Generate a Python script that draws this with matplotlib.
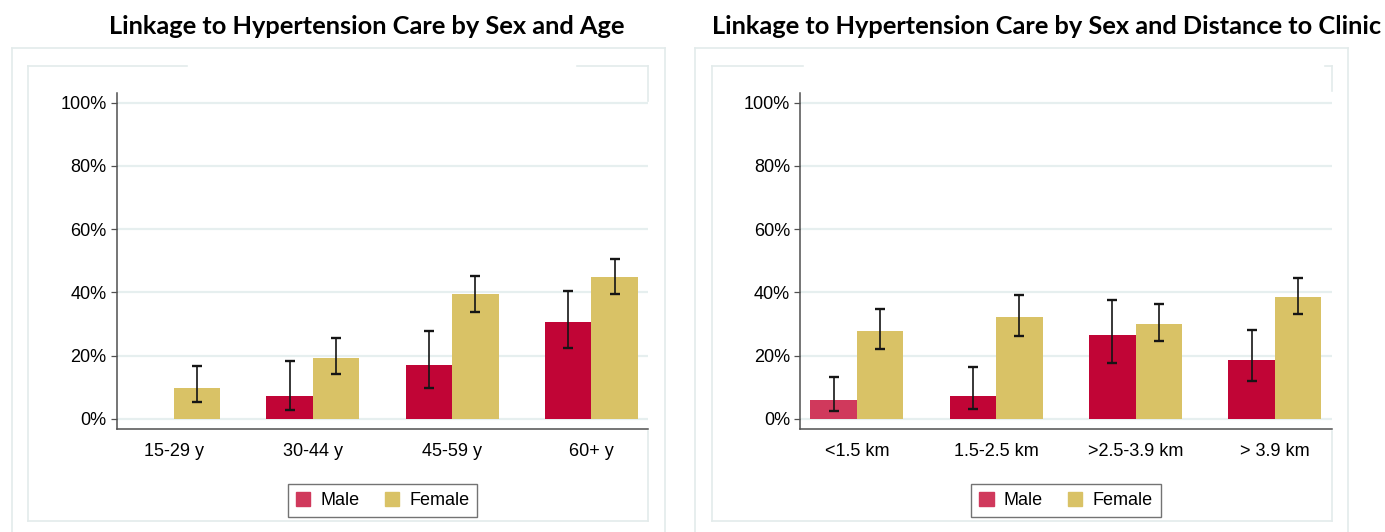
import numpy as np
import matplotlib
matplotlib.use("Agg")
import matplotlib.pyplot as plt
from matplotlib.patches import Patch
from matplotlib.lines import Line2D

W, H = 1385, 532

# data (percent linked to care)
age_groups = ["15-29 y", "30-44 y", "45-59 y", "60+ y"]
age_male = [np.nan, 7.4, 17.2, 30.8]
age_male_lo = [np.nan, 2.8, 9.9, 22.4]
age_male_hi = [np.nan, 18.3, 27.9, 40.5]
age_female = [9.7, 19.3, 39.4, 44.8]
age_female_lo = [5.3, 14.2, 33.9, 39.4]
age_female_hi = [16.8, 25.5, 45.1, 50.5]

dist_groups = ["<1.5 km", "1.5-2.5 km", ">2.5-3.9 km", "> 3.9 km"]
dist_male = [5.9, 7.4, 26.4, 18.8]
dist_male_lo = [2.5, 3.3, 17.7, 12.0]
dist_male_hi = [13.3, 16.5, 37.6, 28.1]
dist_female = [27.9, 32.3, 30.1, 38.6]
dist_female_lo = [22.0, 26.2, 24.5, 33.1]
dist_female_hi = [34.9, 39.1, 36.3, 44.5]

MALE = "#C10536"
MALE_LIGHT = "#D0395C"
FEMALE = "#D9C266"
GRID = "#E6EFEF"
AXC = "#505050"
FRAME = "#E3EBEB"
FS = 13

plt.rcParams['font.family'] = ['Liberation Sans Narrow', 'Liberation Sans', 'DejaVu Sans']

fig = plt.figure(figsize=(W / 100, H / 100), dpi=100)


def line_px(xs, ys):
    fig.add_artist(Line2D([x / W for x in xs], [1 - y / H for y in ys],
                          color=FRAME, lw=1.2, transform=fig.transFigure))


def panel_frames(o_left, o_right, i_left, i_right, top_gap, rline_end):
    # outer frame (bottom cut off by the image edge)
    line_px([o_left, o_left], [48.3, 540])
    line_px([o_right, o_right], [48.3, 540])
    line_px([o_left, o_right], [48.3, 48.3])
    # inner frame, partly hidden at the top
    line_px([i_left, i_left], [65.5, 521])
    line_px([i_left, i_right], [521, 521])
    line_px([i_left, top_gap[0]], [65.5, 65.5])
    line_px([top_gap[1], i_right], [65.5, 65.5])
    line_px([i_right, i_right], [65.5, rline_end])
    line_px([i_right, i_right], [431, 521])


def draw_panel(x0, x1, groups, male, male_lo, male_hi, female, female_lo, female_hi, male_colors):
    ax = fig.add_axes([x0 / W, 1 - 429.3 / H, (x1 - x0) / W, (429.3 - 92.7) / H])
    x = np.arange(len(groups))
    w = 0.333
    male = np.array(male, dtype=float)
    female = np.array(female, dtype=float)
    ok = ~np.isnan(male)
    ax.bar(x[ok] - w / 2, male[ok], w, color=[c for c, k in zip(male_colors, ok) if k],
           zorder=2, linewidth=0)
    ax.bar(x + w / 2, female, w, color=FEMALE, zorder=2, linewidth=0)
    mlo = np.array(male_lo, dtype=float)[ok]
    mhi = np.array(male_hi, dtype=float)[ok]
    ax.errorbar(x[ok] - w / 2, male[ok], yerr=[male[ok] - mlo, mhi - male[ok]], fmt='none',
                ecolor='#151515', elinewidth=1.2, capsize=3.8, capthick=1.7, zorder=3)
    flo = np.array(female_lo, dtype=float)
    fhi = np.array(female_hi, dtype=float)
    ax.errorbar(x + w / 2, female, yerr=[female - flo, fhi - female], fmt='none',
                ecolor='#151515', elinewidth=1.2, capsize=3.8, capthick=1.7, zorder=3)

    ax.set_xlim(-0.408, 3.408)
    ax.set_ylim(-3.26, 103.16)
    ax.set_yticks(range(0, 101, 20))
    ax.set_yticklabels([f"{v}%" for v in range(0, 101, 20)], fontsize=FS)
    ax.set_xticks(x)
    ax.set_xticklabels(groups, fontsize=FS)
    ax.tick_params(axis='x', length=0, pad=10)
    ax.tick_params(axis='y', length=4.3, width=0.9, color=AXC, pad=2.9)
    ax.yaxis.grid(True, color=GRID, lw=1.6)
    ax.set_axisbelow(True)
    for s in ['top', 'right']:
        ax.spines[s].set_visible(False)
    for s in ['left', 'bottom']:
        ax.spines[s].set_color(AXC)
        ax.spines[s].set_linewidth(1.1)

    handles = [Patch(color=MALE_LIGHT), Patch(color=FEMALE)]
    leg = ax.legend(handles, ["Male", "Female"], loc='center',
                    bbox_to_anchor=(((x0 + x1) / 2) / W, 1 - 500.4 / H),
                    bbox_transform=fig.transFigure, ncol=2, frameon=True, fancybox=False,
                    edgecolor=AXC, handlelength=0.8, handleheight=0.85, handletextpad=0.55,
                    columnspacing=1.4, borderpad=0.45, fontsize=FS)
    leg.get_frame().set_linewidth(1.0)
    return ax


panel_frames(11.7, 664.5, 27.7, 648.3, (187, 577), 101)
panel_frames(695, 1348, 711.7, 1331.7, (803, 1325), 91)

draw_panel(116.7, 648.3, age_groups, age_male, age_male_lo, age_male_hi,
           age_female, age_female_lo, age_female_hi, [MALE] * 4)
draw_panel(800, 1331.7, dist_groups, dist_male, dist_male_lo, dist_male_hi,
           dist_female, dist_female_lo, dist_female_hi, [MALE_LIGHT, MALE, MALE, MALE])

fig.text(366.5 / W, 1 - 33.5 / H, "Linkage to Hypertension Care by Sex and Age",
         ha='center', va='baseline', fontsize=18.3, fontweight='bold', family=['Lato', 'DejaVu Sans'])
fig.text(1381 / W, 1 - 33.5 / H, "Linkage to Hypertension Care by Sex and Distance to Clinic",
         ha='right', va='baseline', fontsize=18.3, fontweight='bold', family=['Lato', 'DejaVu Sans'])

fig.savefig("out.png", dpi=100)
